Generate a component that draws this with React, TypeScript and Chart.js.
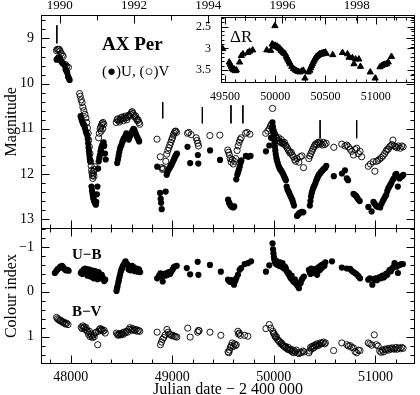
import React, { useEffect, useRef } from "react";
import { Chart, registerables } from "chart.js";

Chart.register(...registerables);

const FONT = "'Liberation Serif', 'DejaVu Serif', serif";

// ---------- axes ----------
const JD_MIN = 47708;
const JD_MAX = 51390;
const JD_TICKS = [48000, 49000, 50000, 51000];
const JD_1990 = 47892.5;
const YEAR_DAYS = 365.25;
const YEAR_TICKS = [1990, 1992, 1994, 1996, 1998];
const MAG_TICKS = [9, 10, 11, 12, 13];
const MAG_MIN = 8.49;
const MAG_MAX = 13.2;
const CI_TICKS = [-1, 0, 1];
const CI_MIN = -1.42;
const CI_MAX = 1.61;
const INSET_JD_MIN = 49461;
const INSET_JD_TICKS = [49500, 50000, 50500, 51000];
const DR_TICKS = [2.5, 3, 3.5];
const DR_MIN = 2.28;
const DR_MAX = 3.8;

// ---------- data: [JD - 2400000, value] ----------
const U_MAG: number[][] = [
  [47862, 9.47], [47870, 9.45], [47880, 9.42], [47893, 9.43], [47902, 9.49], [47912, 9.52], [47920, 9.55], [47930, 9.56], [47942, 9.6], [47950, 9.68], [47958, 9.72], [47966, 9.76], [47974, 9.84], [47982, 9.88], [47990, 9.92],
  [48098, 10.72], [48105, 10.78], [48112, 10.82], [48118, 10.86], [48125, 10.9], [48132, 10.92], [48140, 10.98], [48148, 11.05], [48155, 11.1], [48162, 11.14], [48168, 11.22], [48172, 11.32], [48176, 11.42], [48180, 11.5], [48184, 11.58], [48188, 11.66], [48192, 11.72],
  [48205, 12.28], [48210, 12.36], [48214, 12.42], [48218, 12.48], [48222, 12.52], [48226, 12.56], [48230, 12.6], [48236, 12.62], [48242, 12.66], [48248, 12.68], [48252, 12.62], [48258, 12.45], [48264, 12.28],
  [48270, 11.88], [48276, 11.72], [48282, 11.64], [48288, 11.58], [48294, 11.5], [48300, 11.44], [48306, 11.4], [48312, 11.36], [48318, 11.32], [48324, 11.3], [48330, 11.38], [48338, 11.55], [48345, 11.68],
  [48458, 11.76], [48465, 11.68], [48472, 11.6], [48478, 11.52], [48485, 11.45], [48492, 11.4], [48500, 11.36], [48508, 11.3], [48515, 11.26], [48522, 11.22], [48530, 11.2], [48540, 11.15], [48548, 11.1], [48556, 11.14], [48564, 11.2], [48572, 11.24], [48580, 11.18], [48590, 11.14], [48600, 11.08], [48610, 11.04], [48618, 11.0], [48626, 11.02], [48634, 11.08], [48642, 11.12], [48650, 11.16], [48658, 11.2], [48666, 11.24], [48674, 11.28],
  [48852, 11.84], [48880, 12.42], [48886, 12.55], [48890, 12.64], [48896, 12.78], [48935, 12.39], [48945, 12.02], [48952, 11.96], [48960, 11.92], [48968, 11.88], [48976, 11.86], [48984, 11.82], [48992, 11.8], [49000, 11.76], [49008, 11.72], [49016, 11.68], [49024, 11.64], [49032, 11.6], [49040, 11.57], [49046, 11.55],
  [49150, 11.4], [49176, 11.76], [49252, 11.58], [49256, 11.77],
  [49372, 11.48], [49470, 11.69], [49550, 12.57], [49558, 12.63], [49566, 12.67], [49574, 12.7], [49582, 12.72], [49590, 12.73], [49600, 12.74], [49610, 12.72], [49630, 12.12], [49640, 12.02], [49648, 11.96], [49656, 11.9], [49664, 11.84], [49672, 11.76], [49680, 11.7], [49725, 11.6], [49748, 11.62], [49770, 11.6],
  [49922, 11.5], [49955, 11.37], [49972, 11.2], [49980, 11.0], [49986, 10.86], [49990, 10.95], [49994, 11.05], [49998, 11.12], [50002, 11.2], [50006, 11.3], [50010, 11.4], [50014, 11.48], [50018, 11.56], [50024, 11.64], [50030, 11.7], [50038, 11.76], [50046, 11.82], [50054, 11.86], [50062, 11.9], [50070, 11.92], [50078, 11.95], [50086, 11.98], [50094, 12.02], [50102, 12.06], [50110, 12.1], [50118, 12.14], [50126, 12.28], [50134, 12.35], [50142, 12.38], [50150, 12.42], [50158, 12.46], [50166, 12.5], [50174, 12.54], [50182, 12.58], [50190, 12.64], [50198, 12.7],
  [50228, 12.93], [50236, 12.91], [50246, 12.88], [50256, 12.86], [50266, 12.85], [50278, 12.84], [50290, 12.85],
  [50354, 12.7], [50360, 12.6], [50366, 12.5], [50372, 12.43], [50378, 12.38], [50386, 12.32], [50394, 12.28], [50402, 12.24], [50410, 12.2], [50418, 12.14], [50426, 12.1], [50434, 12.06], [50442, 12.02], [50450, 12.0], [50458, 11.98], [50466, 11.95], [50476, 11.93], [50486, 11.9], [50496, 11.88], [50506, 11.86], [50516, 11.82], [50590, 12.05],
  [50670, 11.99], [50700, 11.92], [50718, 12.1], [50730, 12.14], [50784, 12.44], [50794, 12.46], [50806, 12.48], [50818, 12.52], [50830, 12.56], [50845, 12.6],
  [50930, 12.73], [50962, 12.83], [50980, 12.62], [50992, 12.66], [51004, 12.7], [51016, 12.72], [51030, 12.73], [51046, 12.74], [51060, 12.66], [51072, 12.6], [51084, 12.55], [51096, 12.5], [51106, 12.46], [51116, 12.38], [51126, 12.32], [51136, 12.28], [51146, 12.24], [51156, 12.2], [51168, 12.14], [51180, 12.1], [51195, 12.02], [51205, 12.0], [51220, 12.28], [51236, 12.1], [51250, 12.06], [51262, 12.05], [51274, 12.02],
];

const V_MAG: number[][] = [
  [47860, 9.27], [47868, 9.24], [47878, 9.25], [47888, 9.24], [47896, 9.28], [47906, 9.33], [47918, 9.37], [47926, 9.4], [47950, 9.58], [47962, 9.62], [47978, 9.64],
  [48088, 10.22], [48094, 10.28], [48104, 10.36], [48112, 10.42], [48120, 10.52], [48130, 10.6], [48140, 10.68], [48150, 10.76], [48158, 10.86], [48165, 10.98], [48172, 11.1], [48178, 11.25], [48184, 11.4], [48190, 11.55], [48196, 11.72], [48202, 11.82], [48206, 11.92], [48210, 11.98], [48214, 12.04], [48218, 12.1], [48222, 12.0], [48226, 11.94], [48230, 12.05], [48234, 11.9], [48238, 11.84],
  [48275, 11.2], [48282, 11.1], [48290, 11.0], [48296, 10.96], [48304, 10.92], [48310, 10.88], [48318, 10.86], [48326, 10.9], [48300, 11.05], [48316, 11.0],
  [48448, 10.86], [48456, 10.8], [48464, 10.78], [48472, 10.82], [48480, 10.85], [48488, 10.8], [48496, 10.76], [48504, 10.74], [48512, 10.78], [48520, 10.82], [48528, 10.76], [48536, 10.72], [48544, 10.76], [48552, 10.8], [48560, 10.74], [48570, 10.7], [48580, 10.72], [48590, 10.68], [48598, 10.64], [48606, 10.62], [48614, 10.66], [48622, 10.7], [48630, 10.74], [48640, 10.72], [48648, 10.78], [48656, 10.82], [48664, 10.8], [48672, 10.86], [48680, 10.9],
  [48850, 11.23], [48882, 11.62], [48896, 11.86], [48904, 11.9], [48912, 11.88], [48936, 11.72], [48946, 11.56], [48956, 11.48], [48966, 11.42], [48976, 11.36], [48986, 11.3], [48994, 11.24], [49002, 11.2], [49010, 11.14], [49018, 11.1], [49026, 11.06], [49034, 11.05], [49042, 11.08],
  [49150, 11.1], [49162, 11.08], [49186, 11.13], [49236, 11.2], [49244, 11.26], [49252, 11.32], [49258, 11.38],
  [49370, 11.15], [49468, 11.14], [49546, 11.47], [49554, 11.52], [49562, 11.58], [49570, 11.66], [49580, 11.74], [49590, 11.68], [49600, 11.78], [49612, 11.72], [49624, 11.66], [49638, 11.48], [49648, 11.38], [49658, 11.3], [49668, 11.24], [49678, 11.2], [49722, 11.1], [49736, 11.08], [49764, 11.12],
  [49920, 11.1], [49940, 11.05], [49955, 11.0], [49966, 10.94], [49976, 10.9], [49987, 10.55], [49984, 10.96], [49992, 11.02], [50000, 11.08], [50008, 11.12], [50016, 11.16], [50024, 11.2], [50032, 11.22], [50040, 11.26], [50048, 11.2], [50056, 11.28], [50064, 11.3], [50072, 11.24], [50080, 11.32], [50088, 11.3], [50096, 11.34], [50104, 11.3], [50112, 11.36], [50120, 11.38], [50130, 11.42], [50140, 11.46], [50150, 11.5], [50160, 11.54], [50170, 11.52], [50180, 11.58], [50192, 11.62], [50204, 11.68], [50214, 11.72], [50228, 11.66], [50246, 11.74], [50260, 11.62], [50276, 11.6], [50292, 11.86],
  [50344, 11.66], [50354, 11.6], [50364, 11.55], [50374, 11.5], [50384, 11.45], [50394, 11.4], [50404, 11.36], [50414, 11.33], [50424, 11.36], [50434, 11.3], [50444, 11.32], [50454, 11.29], [50464, 11.33], [50476, 11.36], [50488, 11.3], [50500, 11.35], [50514, 11.32], [50590, 11.41],
  [50668, 11.34], [50700, 11.38], [50718, 11.36], [50734, 11.4], [50750, 11.45], [50766, 11.5], [50783, 11.58], [50800, 11.46], [50815, 11.43], [50832, 11.55], [50848, 11.5], [50864, 11.62],
  [50930, 11.83], [50950, 11.78], [50978, 11.73], [50994, 11.94], [51010, 11.72], [51026, 11.7], [51042, 11.67], [51058, 11.64], [51074, 11.6], [51090, 11.55], [51104, 11.5], [51114, 11.46], [51126, 11.45], [51138, 11.4], [51150, 11.38], [51162, 11.35], [51172, 11.25], [51184, 11.38], [51198, 11.4], [51212, 11.42], [51226, 11.38], [51244, 11.43], [51258, 11.38], [51272, 11.4],
];

const U_B: number[][] = [
  [47844, -0.42], [47858, -0.46], [47870, -0.5], [47882, -0.52], [47894, -0.55], [47904, -0.56], [47914, -0.58], [47924, -0.55], [47934, -0.52], [47944, -0.5], [47954, -0.48], [47968, -0.49], [47980, -0.47],
  [48100, -0.42], [48108, -0.45], [48116, -0.4], [48124, -0.48], [48130, -0.5], [48136, -0.46], [48142, -0.52], [48148, -0.5], [48154, -0.44], [48160, -0.4], [48166, -0.36], [48172, -0.46], [48178, -0.5], [48184, -0.42], [48190, -0.38], [48196, -0.34], [48202, -0.44], [48208, -0.48], [48214, -0.4], [48220, -0.36], [48226, -0.3], [48232, -0.42], [48240, -0.46], [48248, -0.38], [48256, -0.32], [48264, -0.28], [48274, -0.44], [48282, -0.4], [48290, -0.35], [48298, -0.3], [48306, -0.38], [48314, -0.32], [48322, -0.28], [48330, -0.24], [48340, -0.27],
  [48451, -0.02], [48456, -0.08], [48461, -0.12], [48468, -0.2], [48474, -0.26], [48480, -0.32], [48486, -0.38], [48492, -0.44], [48498, -0.48], [48504, -0.52], [48512, -0.56], [48520, -0.6], [48530, -0.64], [48540, -0.68], [48556, -0.62], [48570, -0.5], [48580, -0.55], [48588, -0.48], [48596, -0.52], [48604, -0.58], [48612, -0.5], [48620, -0.55], [48630, -0.46], [48640, -0.48], [48650, -0.52], [48660, -0.45], [48672, -0.5], [48684, -0.44],
  [48851, -0.3], [48870, -0.36], [48884, -0.41], [48896, -0.34], [48906, -0.23], [48920, -0.4], [48932, -0.36], [48946, -0.42], [48956, -0.38], [48966, -0.44], [48978, -0.4], [48990, -0.45], [49004, -0.5], [49016, -0.55], [49030, -0.57], [49044, -0.58],
  [49143, -0.53], [49176, -0.39], [49250, -0.67], [49257, -0.38],
  [49371, -0.6], [49478, -0.45], [49549, -0.27], [49560, -0.24], [49572, -0.22], [49584, -0.26], [49596, -0.2], [49608, -0.16], [49620, -0.24], [49630, -0.3], [49646, -0.38], [49663, -0.49], [49679, -0.53], [49712, -0.62], [49744, -0.64], [49776, -0.68],
  [49922, -0.45], [49955, -0.59], [49987, -1.08], [49992, -0.95], [49996, -0.86], [50000, -0.78], [50004, -0.72], [50010, -0.66], [50016, -0.7], [50022, -0.62], [50028, -0.68], [50036, -0.6], [50044, -0.64], [50052, -0.58], [50060, -0.66], [50068, -0.62], [50076, -0.56], [50084, -0.64], [50092, -0.58], [50100, -0.52], [50108, -0.56], [50117, -0.53], [50126, -0.46], [50134, -0.44], [50142, -0.4], [50149, -0.42], [50158, -0.34], [50166, -0.3], [50174, -0.36], [50182, -0.27], [50190, -0.24], [50198, -0.22], [50206, -0.28], [50214, -0.19], [50222, -0.2], [50230, -0.14], [50240, -0.16], [50247, -0.08], [50255, -0.2], [50263, -0.19], [50272, -0.26], [50282, -0.3], [50296, -0.34],
  [50345, -0.49], [50352, -0.45], [50360, -0.4], [50368, -0.52], [50376, -0.46], [50384, -0.5], [50392, -0.42], [50400, -0.48], [50410, -0.44], [50418, -0.52], [50426, -0.38], [50434, -0.5], [50442, -0.55], [50450, -0.48], [50458, -0.58], [50466, -0.52], [50474, -0.6], [50482, -0.56], [50490, -0.62], [50498, -0.58], [50507, -0.66], [50572, -0.68],
  [50669, -0.54], [50718, -0.52], [50750, -0.51], [50766, -0.47], [50783, -0.44], [50799, -0.42], [50815, -0.39], [50832, -0.35], [50848, -0.3],
  [50929, -0.27], [50945, -0.3], [50969, -0.16], [50985, -0.28], [51000, -0.3], [51014, -0.26], [51026, -0.3], [51040, -0.33], [51054, -0.3], [51068, -0.36], [51080, -0.32], [51091, -0.34], [51104, -0.4], [51116, -0.38], [51128, -0.44], [51140, -0.49], [51152, -0.46], [51164, -0.52], [51176, -0.55], [51188, -0.64], [51200, -0.58], [51210, -0.56], [51221, -0.42], [51240, -0.6], [51256, -0.62], [51270, -0.62],
];

const B_V: number[][] = [
  [47861, 0.57], [47870, 0.6], [47880, 0.62], [47890, 0.64], [47900, 0.63], [47910, 0.66], [47920, 0.68], [47930, 0.67], [47940, 0.7], [47950, 0.72], [47960, 0.7], [47974, 0.73],
  [48104, 0.79], [48112, 0.82], [48120, 0.76], [48128, 0.8], [48136, 0.78], [48144, 0.84], [48152, 0.8], [48160, 0.86], [48168, 0.9], [48176, 0.95], [48184, 0.88], [48192, 1.0], [48200, 0.94], [48208, 0.98], [48216, 1.02], [48224, 0.96], [48232, 1.0], [48240, 0.92], [48250, 0.9], [48266, 1.18], [48276, 0.88], [48284, 0.84], [48292, 0.82], [48300, 0.86], [48308, 0.84], [48318, 0.88], [48330, 0.86], [48340, 0.92],
  [48451, 0.92], [48460, 0.95], [48468, 0.97], [48476, 0.95], [48484, 0.93], [48492, 0.96], [48500, 0.94], [48508, 0.92], [48516, 0.95], [48524, 0.9], [48536, 0.92], [48548, 0.88], [48560, 0.9], [48572, 0.84], [48582, 0.8], [48592, 0.83], [48602, 0.86], [48612, 0.82], [48622, 0.85], [48632, 0.86], [48644, 0.84], [48656, 0.88], [48668, 0.86], [48680, 0.88],
  [48851, 0.9], [48884, 1.18], [48894, 1.12], [48904, 1.06], [48916, 1.02], [48930, 0.96], [48948, 0.84], [48960, 0.9], [48972, 0.94], [48984, 0.96], [48996, 0.98], [49008, 0.97], [49020, 0.99], [49032, 1.0], [49045, 1.01],
  [49152, 0.81], [49176, 1.01], [49250, 0.9], [49258, 0.86], [49264, 0.87],
  [49371, 0.9], [49478, 0.97], [49549, 1.34], [49556, 1.36], [49564, 1.3], [49572, 1.24], [49580, 1.2], [49590, 1.14], [49600, 1.22], [49612, 1.16], [49622, 1.2], [49630, 1.18], [49646, 0.88], [49652, 0.94], [49660, 0.92], [49670, 0.97], [49712, 0.97], [49744, 0.99],
  [49922, 0.82], [49955, 0.73], [49970, 0.81], [49990, 0.88], [49996, 0.92], [50003, 0.94], [50010, 0.98], [50018, 1.02], [50026, 1.0], [50034, 1.06], [50042, 1.08], [50052, 1.1], [50060, 1.12], [50068, 1.16], [50076, 1.14], [50084, 1.18], [50092, 1.2], [50101, 1.21], [50110, 1.24], [50118, 1.22], [50126, 1.26], [50134, 1.28], [50142, 1.24], [50149, 1.29], [50158, 1.3], [50166, 1.28], [50174, 1.32], [50182, 1.34], [50190, 1.3], [50198, 1.36], [50210, 1.33], [50222, 1.3], [50234, 1.36], [50247, 1.38], [50260, 1.36], [50272, 1.35], [50284, 1.32], [50296, 1.34],
  [50345, 1.36], [50352, 1.32], [50361, 1.24], [50368, 1.28], [50376, 1.22], [50384, 1.26], [50392, 1.2], [50400, 1.24], [50410, 1.18], [50418, 1.2], [50426, 1.16], [50436, 1.2], [50446, 1.18], [50456, 1.14], [50466, 1.16], [50476, 1.14], [50488, 1.12], [50498, 1.16], [50507, 1.14], [50588, 1.31],
  [50669, 1.14], [50718, 1.18], [50734, 1.21], [50750, 1.2], [50766, 1.24], [50783, 1.25], [50799, 1.33], [50815, 1.36], [50832, 1.3], [50848, 1.31],
  [50929, 1.14], [50945, 1.16], [50962, 1.19], [50988, 0.96], [51008, 1.18], [51026, 1.21], [51042, 1.32], [51056, 1.35], [51068, 1.3], [51080, 1.34], [51092, 1.28], [51104, 1.3], [51116, 1.27], [51128, 1.3], [51140, 1.26], [51152, 1.28], [51164, 1.25], [51176, 1.27], [51188, 1.28], [51200, 1.24], [51214, 1.28], [51228, 1.25], [51244, 1.27], [51258, 1.24], [51272, 1.26],
];

const DELTA_R: number[][] = [
  [49478, 3.01], [49543, 3.32], [49553, 3.37], [49563, 3.42], [49573, 3.47], [49583, 3.5], [49593, 3.48], [49604, 3.52], [49614, 3.5], [49646, 3.32], [49663, 3.17], [49679, 3.13], [49727, 3.1], [49745, 3.07], [49776, 3.04],
  [49916, 3.04], [49955, 3.05], [49970, 2.9], [49980, 2.92], [49997, 2.48], [49990, 2.95], [50000, 2.93], [50008, 2.96], [50019, 2.95], [50028, 2.98], [50036, 2.99], [50044, 3.0], [50052, 3.02], [50060, 3.05], [50068, 3.06], [50076, 3.08], [50084, 3.1], [50092, 3.12], [50101, 3.13], [50109, 3.18], [50117, 3.21], [50125, 3.25], [50133, 3.28], [50141, 3.32], [50149, 3.36], [50165, 3.42], [50182, 3.47], [50198, 3.5], [50214, 3.52], [50230, 3.54], [50247, 3.55], [50263, 3.53], [50279, 3.51], [50296, 3.69],
  [50328, 3.55], [50345, 3.51], [50353, 3.45], [50361, 3.4], [50369, 3.36], [50377, 3.32], [50385, 3.28], [50393, 3.25], [50401, 3.22], [50409, 3.19], [50418, 3.18], [50426, 3.16], [50434, 3.15], [50442, 3.13], [50450, 3.14], [50458, 3.12], [50466, 3.11], [50474, 3.13], [50482, 3.1], [50491, 3.1], [50499, 3.09], [50507, 3.12], [50572, 3.15],
  [50669, 3.1], [50718, 3.13], [50734, 3.21], [50767, 3.22], [50783, 3.36], [50799, 3.25], [50832, 3.25], [50848, 3.42], [50945, 3.55], [50994, 3.69], [51042, 3.43], [51059, 3.4], [51075, 3.38], [51091, 3.37], [51108, 3.36], [51124, 3.32], [51156, 3.19],
];

// short vertical marks: JD, top and bottom magnitude
const MARK_JD = [47864, 48906, 49296, 49578, 49695, 50455, 50815];
const MARK_TOP = [8.71, 10.41, 10.52, 10.48, 10.48, 10.81, 10.81];
const MARK_BOTTOM = [9.11, 10.77, 10.88, 10.88, 10.88, 11.21, 11.21];

const toXY = (a: number[][]) => a.map(([x, y]) => ({ x, y }));
const minus = (v: any) => String(v).replace("-", "\u2212");

function seg(ctx: CanvasRenderingContext2D, x1: number, y1: number, x2: number, y2: number) {
  ctx.beginPath();
  ctx.moveTo(x1, y1);
  ctx.lineTo(x2, y2);
  ctx.stroke();
}

const mainFrame = {
  id: "mainFrame",
  afterDraw(chart: any) {
    const { ctx, chartArea: ca, scales } = chart;
    const sx = scales.x, st = scales.xTop, sm = scales.y, sc = scales.y2;
    const L = Math.round(ca.left) + 0.5, R = Math.round(ca.right) - 0.5;
    const T = Math.round(ca.top) + 0.5, B = Math.round(ca.bottom) - 0.5;
    const S = Math.round(sm.bottom) + 0.5;
    ctx.save();
    ctx.strokeStyle = "#000";
    ctx.lineWidth = 1;
    ctx.strokeRect(L, T, R - L, B - T);
    seg(ctx, L, S, R, S);
    for (let v = 47800; v <= 51200; v += 200) {
      const px = Math.round(sx.getPixelForValue(v)) + 0.5;
      const len = v % 1000 === 0 ? 8 : 4;
      seg(ctx, px, B, px, B - len);
      seg(ctx, px, S - len, px, S + len);
    }
    for (let yr = 1990; yr <= 1999; yr++) {
      const px = Math.round(st.getPixelForValue(yr)) + 0.5;
      const len = yr % 2 === 0 ? 8 : 5;
      seg(ctx, px, T, px, T + len);
    }
    for (let k = 43; k <= 66; k++) {
      const py = Math.round(sm.getPixelForValue(k / 5)) + 0.5;
      if (py <= T || py >= S) continue;
      const len = k % 5 === 0 ? 8 : 4;
      seg(ctx, L, py, L + len, py);
      seg(ctx, R, py, R - len, py);
    }
    for (let k = -7; k <= 8; k++) {
      const py = Math.round(sc.getPixelForValue(k / 5)) + 0.5;
      if (py <= S || py >= B) continue;
      const len = k % 5 === 0 ? 8 : 4;
      seg(ctx, L, py, L + len, py);
      seg(ctx, R, py, R - len, py);
    }
    ctx.fillStyle = "#000";
    ctx.textAlign = "left";
    ctx.textBaseline = "alphabetic";
    ctx.font = `bold 19px ${FONT}`;
    ctx.fillText("AX Per", ca.left + 61, ca.top + 35);
    ctx.font = `15px ${FONT}`;
    ctx.fillText("(\u25CF)U, (\u25CB)V", ca.left + 61, ca.top + 61);
    ctx.font = `bold 15px ${FONT}`;
    ctx.fillText("U\u2212B", ca.left + 31, S + 30);
    ctx.fillText("B\u2212V", ca.left + 31, S + 87);
    ctx.restore();
  },
};

const insetFrame = {
  id: "insetFrame",
  afterDraw(chart: any) {
    const { ctx, chartArea: ca, scales } = chart;
    const sx = scales.x, sy = scales.y;
    const L = Math.round(ca.left) + 0.5, R = Math.round(ca.right) - 0.5;
    const T = Math.round(ca.top) + 0.5, B = Math.round(ca.bottom) - 0.5;
    ctx.save();
    ctx.strokeStyle = "#000";
    ctx.lineWidth = 1;
    ctx.strokeRect(L, T, R - L, B - T);
    for (let v = 49500; v <= 51300; v += 100) {
      const px = Math.round(sx.getPixelForValue(v)) + 0.5;
      const len = v % 500 === 0 ? 7 : 3;
      seg(ctx, px, B, px, B - len);
      seg(ctx, px, T, px, T + len);
    }
    for (let k = 23; k <= 38; k++) {
      const py = Math.round(sy.getPixelForValue(k / 10)) + 0.5;
      if (py <= T || py >= B) continue;
      const len = k % 5 === 0 ? 7 : 3;
      seg(ctx, L, py, L + len, py);
      seg(ctx, R, py, R - len, py);
    }
    ctx.fillStyle = "#000";
    ctx.font = `17px ${FONT}`;
    ctx.textAlign = "left";
    ctx.textBaseline = "alphabetic";
    ctx.fillText("\u0394R", ca.left + 9, ca.top + 25);
    ctx.restore();
  },
};

const tickFont = (size: number) => ({ family: FONT, size });

export default function App() {
  const mainRef = useRef<HTMLCanvasElement>(null);
  const insetRef = useRef<HTMLCanvasElement>(null);

  useEffect(() => {
    const markSets = MARK_JD.map((jd, i) => ({
      type: "scatter" as const,
      data: [{ x: jd, y: MARK_TOP[i] }, { x: jd, y: MARK_BOTTOM[i] }],
      showLine: true,
      borderColor: "#000",
      borderWidth: 1,
      pointRadius: 0,
      yAxisID: "y",
    }));

    const main = new Chart(mainRef.current as HTMLCanvasElement, {
      type: "scatter",
      data: {
        datasets: [
          { data: toXY(U_MAG), yAxisID: "y", pointRadius: 3.1, pointBackgroundColor: "#000", pointBorderColor: "#000", pointBorderWidth: 0 },
          { data: toXY(V_MAG), yAxisID: "y", pointRadius: 3.1, pointBackgroundColor: "rgba(0,0,0,0)", pointBorderColor: "#000", pointBorderWidth: 0.9 },
          { data: toXY(U_B), yAxisID: "y2", pointRadius: 3.1, pointBackgroundColor: "#000", pointBorderColor: "#000", pointBorderWidth: 0 },
          { data: toXY(B_V), yAxisID: "y2", pointRadius: 3.1, pointBackgroundColor: "rgba(0,0,0,0)", pointBorderColor: "#000", pointBorderWidth: 0.9 },
          ...markSets,
        ] as any,
      },
      options: {
        animation: false,
        responsive: false,
        devicePixelRatio: 1,
        events: [],
        layout: { padding: { left: 0, right: 1, top: 0, bottom: 0 } },
        plugins: { legend: { display: false }, tooltip: { enabled: false } },
        scales: {
          x: {
            type: "linear",
            position: "bottom",
            min: JD_MIN,
            max: JD_MAX,
            afterBuildTicks: (s: any) => { s.ticks = JD_TICKS.map((value) => ({ value })); },
            afterFit: (s: any) => { s.height = 31; },
            ticks: { font: tickFont(14), color: "#000", padding: 5, maxRotation: 0, autoSkip: false, callback: (v: any) => String(v) },
            grid: { display: false, drawTicks: false },
            border: { display: false },
            title: { display: true, text: "Julian date \u2212 2 400 000", color: "#000", font: { family: FONT, size: 16, lineHeight: 0.7 }, padding: 0 },
          },
          xTop: {
            type: "linear",
            position: "top",
            min: 1990 + (JD_MIN - JD_1990) / YEAR_DAYS,
            max: 1990 + (JD_MAX - JD_1990) / YEAR_DAYS,
            afterBuildTicks: (s: any) => { s.ticks = YEAR_TICKS.map((value) => ({ value })); },
            afterFit: (s: any) => { s.height = 15; },
            ticks: { font: tickFont(13), color: "#000", padding: 2, maxRotation: 0, autoSkip: false, callback: (v: any) => String(v) },
            grid: { display: false, drawTicks: false },
            border: { display: false },
          },
          y: {
            type: "linear",
            position: "left",
            stack: "panels",
            stackWeight: 213,
            weight: 1,
            reverse: true,
            min: MAG_MIN,
            max: MAG_MAX,
            afterBuildTicks: (s: any) => { s.ticks = MAG_TICKS.map((value) => ({ value })); },
            afterFit: (s: any) => { s.width = 41; },
            ticks: { font: tickFont(14), color: "#000", padding: 7, callback: minus },
            grid: { display: false, drawTicks: false },
            border: { display: false },
            title: { display: true, text: "Magnitude", color: "#000", font: { family: FONT, size: 16, lineHeight: 1.2 }, padding: { top: 2, bottom: 0 } },
          },
          y2: {
            type: "linear",
            position: "left",
            stack: "panels",
            stackWeight: 136,
            weight: 0,
            reverse: true,
            min: CI_MIN,
            max: CI_MAX,
            afterBuildTicks: (s: any) => { s.ticks = CI_TICKS.map((value) => ({ value })); },
            afterFit: (s: any) => { s.width = 41; },
            ticks: { font: tickFont(14), color: "#000", padding: 7, callback: minus },
            grid: { display: false, drawTicks: false },
            border: { display: false },
            title: { display: true, text: "Colour index", color: "#000", font: { family: FONT, size: 16, lineHeight: 1.2 }, padding: { top: 2, bottom: 0 } },
          },
        } as any,
      },
      plugins: [mainFrame],
    });

    const inset = new Chart(insetRef.current as HTMLCanvasElement, {
      type: "scatter",
      data: {
        datasets: [
          { data: toXY(DELTA_R), pointStyle: "triangle", pointRadius: 3.6, pointBackgroundColor: "#000", pointBorderColor: "#000", pointBorderWidth: 1 },
        ] as any,
      },
      options: {
        animation: false,
        responsive: false,
        devicePixelRatio: 1,
        events: [],
        layout: { padding: { left: 0, right: 1, top: 15, bottom: 0 } },
        plugins: { legend: { display: false }, tooltip: { enabled: false } },
        scales: {
          x: {
            type: "linear",
            position: "bottom",
            min: INSET_JD_MIN,
            max: JD_MAX,
            afterBuildTicks: (s: any) => { s.ticks = INSET_JD_TICKS.map((value) => ({ value })); },
            afterFit: (s: any) => { s.height = 22; },
            ticks: { font: tickFont(12), color: "#000", padding: 7, maxRotation: 0, autoSkip: false, callback: (v: any) => String(v) },
            grid: { display: false, drawTicks: false },
            border: { display: false },
          },
          y: {
            type: "linear",
            position: "left",
            reverse: true,
            min: DR_MIN,
            max: DR_MAX,
            afterBuildTicks: (s: any) => { s.ticks = DR_TICKS.map((value) => ({ value })); },
            afterFit: (s: any) => { s.width = 31; },
            ticks: { font: tickFont(12), color: "#000", padding: 10, callback: (v: any) => String(v) },
            grid: { display: false, drawTicks: false },
            border: { display: false },
          },
        } as any,
      },
      plugins: [insetFrame],
    });

    return () => {
      main.destroy();
      inset.destroy();
    };
  }, []);

  return (
    <div style={{ position: "fixed", left: 0, top: 0, width: 420, height: 395, background: "#fff" }}>
      <canvas ref={mainRef} width={420} height={395} style={{ position: "absolute", left: 0, top: 0, width: 420, height: 395 }} />
      <canvas ref={insetRef} width={230} height={105} style={{ position: "absolute", left: 190, top: 0, width: 230, height: 105 }} />
    </div>
  );
}
